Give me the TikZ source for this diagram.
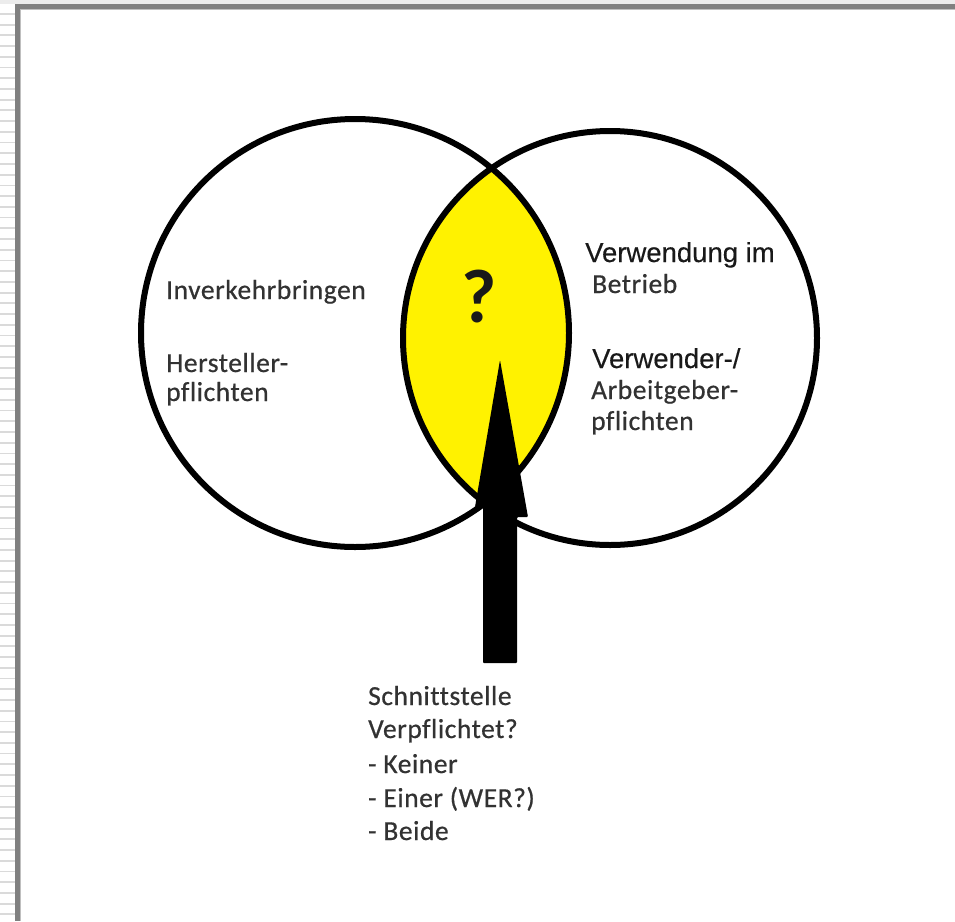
\documentclass[tikz,border=0pt]{standalone}
\usepackage{fontspec}
\setmainfont{Carlito}
\newfontfamily\calib[Ligatures=NoCommon,FakeBold=0.6,LetterSpace=2]{Carlito}
\newfontfamily\arialf[FakeBold=0.3]{Liberation Sans}
\newfontfamily\calibbold{Carlito Bold}
\definecolor{lensyellow}{RGB}{255,242,0}
\definecolor{framegray}{RGB}{128,128,128}
\definecolor{stripegray}{RGB}{218,218,218}
\definecolor{topgray}{RGB}{236,236,236}
\definecolor{txtgray}{RGB}{50,50,50}
\definecolor{txtdark}{RGB}{25,25,25}
\begin{document}
\begin{tikzpicture}[x=1pt,y=-1pt,
  ringline/.style={line width=6pt, draw=black},
  caltext/.style={anchor=base west, inner sep=0pt, font=\calib\fontsize{27.5}{30}\selectfont, text=txtgray},
  ariatext/.style={anchor=base west, inner sep=0pt, font=\arialf\fontsize{27.5}{31}\selectfont, text=txtdark}]
\useasboundingbox (0,0) rectangle (955,921);
\fill[white] (0,0) rectangle (955,921);
% window frame
\fill[topgray] (0,0) rectangle (955,4);
\foreach \i in {0,...,85} {
  \fill[stripegray] (0,{13+10.72*\i}) rectangle (15,{14.8+10.72*\i});
}
\fill[framegray] (15,4) rectangle (955,9);
\fill[framegray] (15,4) rectangle (20,921);
\fill[black!25] (20,9) rectangle (955,10);
\fill[black!25] (20,9) rectangle (21,921);
% lens
\begin{scope}
  \clip (355,333) circle [radius=214];
  \fill[lensyellow] (610,338) circle [radius=207];
\end{scope}
\draw[ringline] (355,333) circle [radius=214];
\draw[ringline] (610,338) circle [radius=207];
% question mark
\node[inner sep=0pt, font=\calibbold\fontsize{76}{80}\selectfont, text=txtdark] (q) at (479,297) {?};
% arrow
\fill[black, rounded corners=1pt] (500,360) -- (528,517) -- (517,517) -- (517,663) -- (483,663) -- (483,507) -- (475,507) -- cycle;
% left texts
\node[caltext] (inv) at (166,299) {Inverkehrbringen};
\node[caltext] (her) at (166,372) {Hersteller-};
\node[caltext] (pfl) at (166,401) {pflichten};
% right texts
\node[ariatext] (verw) at (585,262) {Verwendung im};
\node[caltext] (betr) at (592,293) {Betrieb};
\node[ariatext] (verwd) at (592,368) {Verwender-/};
\node[caltext] (arb) at (591,399) {Arbeitgeber-};
\node[caltext] (pfl2) at (591,430) {pflichten};
% bottom texts
\node[caltext] (s1) at (368,705) {Schnittstelle};
\node[caltext] (s2) at (368,738) {Verpflichtet?};
\node[caltext] (s3) at (368,773) {- Keiner};
\node[caltext] (s4) at (368,807) {- Einer (WER?)};
\node[caltext] (s5) at (368,840) {- Beide};
\end{tikzpicture}
\end{document}
